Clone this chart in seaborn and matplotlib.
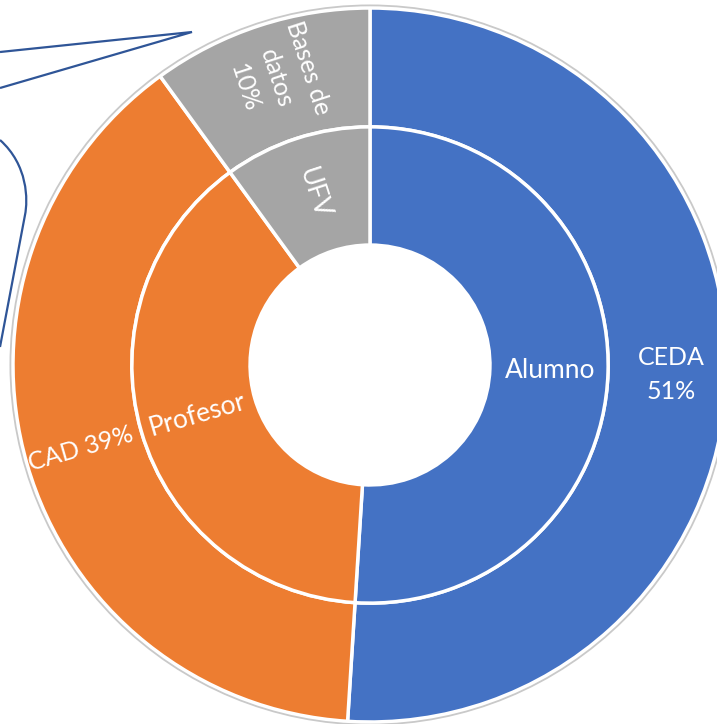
import numpy as np
import matplotlib
matplotlib.use("Agg")
import matplotlib.pyplot as plt
from matplotlib.patches import Circle, PathPatch
from matplotlib.path import Path
import seaborn as sns

# data
outer_labels = ["CEDA\n51%", "CAD 39%", "Bases de\ndatos\n10%"]
outer_values = [51, 39, 10]
inner_labels = ["Alumno", "Profesor", "UFV"]
inner_values = [51, 39, 10]
colors = ["#4472C4", "#ED7D31", "#A5A5A5"]

sns.set_theme(style="white")
plt.rcParams['font.family'] = ['Lato', 'DejaVu Sans']

W, H = 717, 724
cx, cy, R = 370, 365, 357   # centre and radius in pixels

fig = plt.figure(figsize=(W / 100, H / 100), dpi=100)
ax = fig.add_axes([0, 0, 1, 1])

r_mid = 0.667
r_hole = 0.336
wp = dict(edgecolor="white", linewidth=2.5)

w_out, _ = ax.pie(outer_values, radius=1.0, colors=colors, startangle=90,
                  counterclock=False, wedgeprops=dict(width=1 - r_mid, **wp))
w_in, _ = ax.pie(inner_values, radius=r_mid, colors=colors, startangle=90,
                 counterclock=False, wedgeprops=dict(width=r_mid - r_hole, **wp))

ax.add_patch(Circle((0, 0), 1.0 + 2.6 / R, fill=False, ec="#c9c9c9", lw=1.3))


def put_labels(wedges, labels, r, size):
    for w, lab in zip(wedges, labels):
        mid = (w.theta1 + w.theta2) / 2.0
        a = np.deg2rad(mid)
        x, y = r * np.cos(a), r * np.sin(a)
        m = (mid + 180) % 360 - 180
        if abs(m) < 10:
            rot = 0
        elif abs(m) > 90:
            rot = m - 180 if m > 0 else m + 180
        else:
            rot = m
        ax.text(x, y, lab, color="white", fontsize=size, ha="center", va="center",
                rotation=rot, rotation_mode="anchor", linespacing=1.55,
                multialignment="center")


put_labels(w_out, outer_labels, 0.845, 18)
put_labels(w_in, inner_labels, 0.505, 19)

ax.set_xlim(-cx / R, (W - cx) / R)
ax.set_ylim(-(H - cy) / R, cy / R)
ax.set_aspect("auto")
ax.axis("off")

# callout outline in the top left corner
tr = fig.transFigure
def fp(px, py):
    return (px / W, 1 - py / H)

blue = "#2F5597"
verts = [fp(0, 52), fp(192, 32), fp(0, 88)]
fig.add_artist(PathPatch(Path(verts, [Path.MOVETO, Path.LINETO, Path.LINETO]),
                         transform=tr, fill=False, ec=blue, lw=1.6))
verts = [fp(0, 140), fp(28, 165), fp(28, 200), fp(25, 215), fp(0, 347)]
codes = [Path.MOVETO, Path.CURVE4, Path.CURVE4, Path.CURVE4, Path.LINETO]
fig.add_artist(PathPatch(Path(verts, codes), transform=tr, fill=False, ec=blue, lw=1.6))

fig.savefig("out.png", dpi=100)
